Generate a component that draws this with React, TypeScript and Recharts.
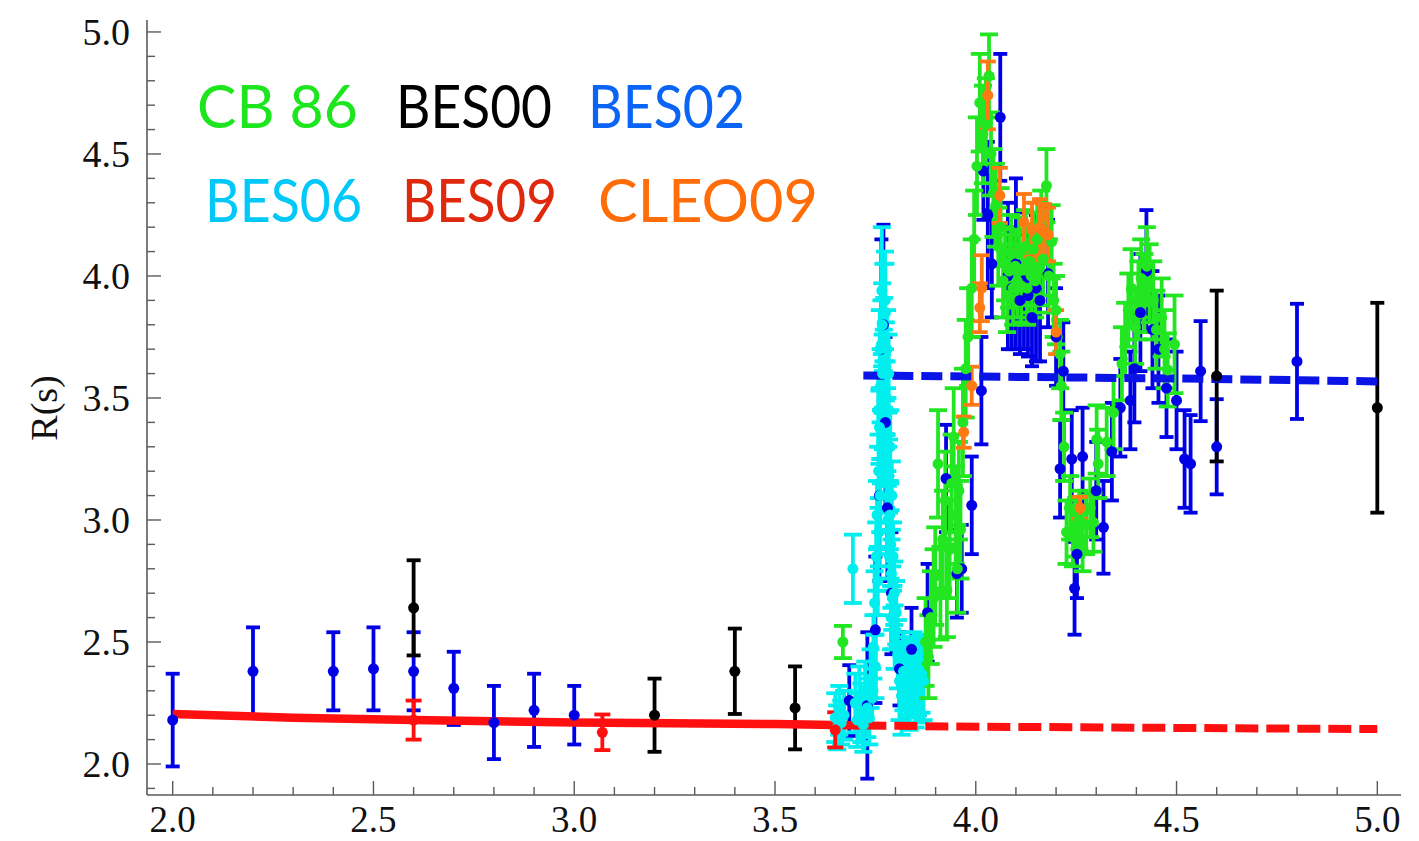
import React from 'react';
import { ComposedChart, Scatter, Line, ErrorBar, XAxis, YAxis } from 'recharts';

// [energy (GeV), R, error]
type Point = [number, number, number];

const BES02: Point[] = [
  [2.0, 2.18, 0.19], [2.2, 2.38, 0.18], [2.4, 2.38, 0.16], [2.5, 2.39, 0.17],
  [2.6, 2.38, 0.16], [2.7, 2.31, 0.15], [2.8, 2.17, 0.15], [2.9, 2.22, 0.15],
  [3.0, 2.2, 0.12], [3.685, 2.26, 0.145], [3.73, 2.24, 0.3], [3.75, 2.55, 0.3],
  [3.76, 3.1, 0.35], [3.765, 3.7, 0.45], [3.77, 3.8, 0.41], [3.775, 3.4, 0.35],
  [3.78, 3.05, 0.3], [3.79, 2.7, 0.25], [3.81, 2.39, 0.15], [3.84, 2.47, 0.17],
  [3.86, 2.36, 0.16], [3.88, 2.62, 0.2], [3.926, 3.17, 0.22], [3.953, 2.78, 0.18],
  [3.965, 2.8, 0.18], [3.99, 3.06, 0.2], [4.014, 3.53, 0.22], [4.019, 4.43, 0.2],
  [4.03, 4.25, 0.3], [4.04, 4.05, 0.22], [4.061, 4.65, 0.26], [4.08, 4.0, 0.3],
  [4.09, 3.95, 0.25], [4.1, 4.05, 0.35], [4.11, 3.9, 0.22], [4.12, 3.98, 0.28],
  [4.13, 3.92, 0.25], [4.14, 3.83, 0.2], [4.15, 3.95, 0.3], [4.16, 3.9, 0.25],
  [4.18, 4.01, 0.22], [4.2, 3.75, 0.2], [4.21, 3.21, 0.2], [4.218, 3.61, 0.2],
  [4.239, 3.25, 0.2], [4.246, 2.72, 0.19], [4.252, 2.86, 0.18], [4.266, 3.26, 0.2],
  [4.3, 3.12, 0.2], [4.318, 2.97, 0.19], [4.339, 3.28, 0.2], [4.36, 3.46, 0.2],
  [4.385, 3.49, 0.2], [4.395, 3.62, 0.22], [4.41, 3.85, 0.24], [4.425, 4.02, 0.25],
  [4.44, 3.78, 0.24], [4.455, 3.7, 0.22], [4.475, 3.54, 0.2], [4.5, 3.49, 0.2],
  [4.52, 3.25, 0.2], [4.535, 3.23, 0.2], [4.56, 3.61, 0.205], [4.6, 3.3, 0.195],
  [4.8, 3.65, 0.236],
];

const BES06: Point[] = [
  [3.65, 2.19, 0.1], [3.655, 2.15, 0.09], [3.66, 2.22, 0.1], [3.665, 2.17, 0.09],
  [3.672, 2.2, 0.1], [3.694, 2.8, 0.14], [3.7, 2.25, 0.12], [3.705, 2.18, 0.11],
  [3.71, 2.28, 0.12], [3.715, 2.21, 0.12], [3.72, 2.16, 0.11], [3.725, 2.3, 0.12],
  [3.73, 2.23, 0.12], [3.735, 2.19, 0.11], [3.738, 2.35, 0.12], [3.742, 2.27, 0.12],
  [3.745, 2.48, 0.13], [3.748, 2.66, 0.13], [3.75, 2.4, 0.13], [3.752, 2.85, 0.14],
  [3.754, 3.02, 0.14], [3.756, 2.75, 0.14], [3.757, 3.45, 0.15], [3.758, 3.2, 0.15],
  [3.759, 2.95, 0.14], [3.76, 3.38, 0.15], [3.761, 3.7, 0.16], [3.762, 3.1, 0.15],
  [3.763, 3.55, 0.15], [3.764, 3.3, 0.15], [3.765, 3.72, 0.18], [3.766, 3.94, 0.26],
  [3.767, 3.8, 0.17], [3.768, 3.6, 0.16], [3.769, 3.45, 0.16], [3.77, 3.85, 0.2],
  [3.771, 3.62, 0.16], [3.772, 3.75, 0.16], [3.773, 3.3, 0.15], [3.774, 3.9, 0.2],
  [3.775, 3.85, 0.2], [3.776, 3.65, 0.16], [3.777, 3.2, 0.15], [3.778, 3.5, 0.15],
  [3.779, 3.7, 0.16], [3.78, 3.35, 0.15], [3.781, 3.0, 0.14], [3.782, 3.45, 0.15],
  [3.783, 3.6, 0.16], [3.784, 3.18, 0.15], [3.785, 2.85, 0.14], [3.786, 3.02, 0.14],
  [3.787, 3.3, 0.15], [3.788, 2.9, 0.14], [3.789, 2.6, 0.13], [3.79, 2.78, 0.14],
  [3.791, 3.1, 0.14], [3.792, 2.68, 0.13], [3.794, 2.85, 0.14], [3.795, 2.6, 0.13],
  [3.797, 2.7, 0.13], [3.798, 2.52, 0.13], [3.802, 2.62, 0.13], [3.806, 2.45, 0.14],
  [3.81, 2.34, 0.16], [3.815, 2.28, 0.16], [3.82, 2.38, 0.16], [3.825, 2.32, 0.16],
  [3.83, 2.36, 0.16], [3.835, 2.3, 0.16], [3.84, 2.35, 0.16], [3.845, 2.38, 0.16],
  [3.85, 2.31, 0.16], [3.855, 2.36, 0.16], [3.86, 2.33, 0.16], [3.865, 2.37, 0.16],
  [3.87, 2.34, 0.16],
];

const CB86: Point[] = [
  [3.669, 2.5, 0.066], [3.875, 2.5, 0.18], [3.882, 2.44, 0.17], [3.888, 2.6, 0.19],
  [3.895, 2.68, 0.2], [3.899, 2.77, 0.2], [3.906, 3.23, 0.22], [3.912, 2.7, 0.19],
  [3.918, 2.92, 0.2], [3.924, 3.08, 0.2], [3.928, 2.71, 0.19], [3.935, 2.88, 0.2],
  [3.94, 3.15, 0.2], [3.945, 3.34, 0.2], [3.95, 3.02, 0.2], [3.954, 2.8, 0.18],
  [3.958, 3.12, 0.2], [3.962, 2.96, 0.2], [3.968, 3.4, 0.22], [3.975, 3.62, 0.2],
  [3.981, 3.75, 0.2], [3.99, 3.95, 0.2], [3.996, 4.15, 0.2], [4.003, 4.45, 0.2],
  [4.01, 4.71, 0.2], [4.018, 4.58, 0.2], [4.025, 4.62, 0.19], [4.033, 4.82, 0.17],
  [4.038, 4.5, 0.17], [4.044, 4.34, 0.18], [4.05, 4.29, 0.17], [4.056, 4.12, 0.16],
  [4.062, 4.2, 0.16], [4.068, 3.98, 0.15], [4.073, 4.05, 0.15], [4.078, 3.92, 0.15],
  [4.083, 4.02, 0.15], [4.088, 4.1, 0.15], [4.093, 3.95, 0.15], [4.098, 4.04, 0.15],
  [4.103, 3.98, 0.15], [4.108, 4.09, 0.15], [4.113, 3.96, 0.15], [4.118, 4.03, 0.15],
  [4.123, 4.12, 0.15], [4.128, 3.95, 0.15], [4.133, 4.06, 0.15], [4.138, 4.0, 0.15],
  [4.143, 4.11, 0.15], [4.148, 3.98, 0.15], [4.153, 4.15, 0.15], [4.158, 4.03, 0.15],
  [4.163, 4.2, 0.15], [4.168, 4.07, 0.15], [4.176, 4.37, 0.15], [4.182, 4.0, 0.15],
  [4.189, 4.14, 0.15], [4.194, 3.9, 0.15], [4.2, 3.86, 0.14], [4.21, 3.68, 0.14],
  [4.213, 3.55, 0.14], [4.22, 3.3, 0.14], [4.226, 2.95, 0.13], [4.235, 3.05, 0.13],
  [4.242, 2.93, 0.12], [4.25, 2.97, 0.12], [4.258, 3.0, 0.12], [4.266, 2.91, 0.12],
  [4.275, 2.98, 0.12], [4.285, 3.05, 0.12], [4.293, 2.99, 0.12], [4.301, 3.33, 0.14],
  [4.305, 3.23, 0.14], [4.326, 3.32, 0.14], [4.343, 3.44, 0.15], [4.364, 3.64, 0.15],
  [4.372, 3.74, 0.15], [4.38, 3.86, 0.15], [4.388, 3.95, 0.16], [4.397, 3.79, 0.15],
  [4.405, 3.9, 0.16], [4.412, 3.99, 0.16], [4.42, 3.93, 0.16], [4.426, 4.04, 0.16],
  [4.433, 3.97, 0.16], [4.442, 3.9, 0.16], [4.45, 3.78, 0.16], [4.463, 3.83, 0.16],
  [4.47, 3.7, 0.16], [4.478, 3.615, 0.15], [4.495, 3.72, 0.2],
];

const BES00: Point[] = [
  [2.6, 2.64, 0.195], [3.2, 2.2, 0.15], [3.4, 2.38, 0.175], [3.55, 2.23, 0.17],
  [4.6, 3.59, 0.35], [5.0, 3.46, 0.43],
];

const BES09: Point[] = [
  [2.6, 2.18, 0.08], [3.07, 2.13, 0.073], [3.65, 2.14, 0.072],
];

const CLEO09: Point[] = [
  [3.97, 3.36, 0.064], [3.99, 3.55, 0.078], [4.01, 3.87, 0.1], [4.015, 3.95, 0.135],
  [4.03, 4.74, 0.139], [4.06, 4.33, 0.113], [4.12, 4.22, 0.116], [4.14, 4.19, 0.11],
  [4.16, 4.2, 0.115], [4.17, 4.18, 0.115], [4.18, 4.17, 0.11], [4.2, 3.77, 0.09],
  [4.26, 3.05, 0.045],
];

// pQCD prediction below / above open charm, and the high-energy average
const redFitSolid: [number, number][] = [[2.0, 2.205], [2.3, 2.19], [2.6, 2.18], [3.0, 2.17], [3.5, 2.164], [3.72, 2.158]];
const redFitDashed: [number, number][] = [[3.72, 2.158], [4.0, 2.153], [4.5, 2.148], [5.0, 2.143]];
const blueFitDashed: [number, number][] = [[3.72, 3.592], [4.0, 3.588], [4.5, 3.58], [5.0, 3.568]];

const xMajorTicks = [2.0, 2.5, 3.0, 3.5, 4.0, 4.5, 5.0];
const yMajorTicks = [2.0, 2.5, 3.0, 3.5, 4.0, 4.5, 5.0];
const xAllTicks = Array.from({ length: 31 }, (_, i) => (20 + i) / 10);
const yAllTicks = Array.from({ length: 32 }, (_, i) => (19 + i) / 10);

const legendRows = [
  { label: 'CB 86', color: '#1ee61e', x: 197, y: 128, w: 161 },
  { label: 'BES00', color: '#000000', x: 396, y: 128, w: 156 },
  { label: 'BES02', color: '#0a64f6', x: 588, y: 128, w: 157 },
  { label: 'BES06', color: '#00c8f8', x: 205, y: 222, w: 157 },
  { label: 'BES09', color: '#e0280c', x: 402, y: 222, w: 155 },
  { label: 'CLEO09', color: '#ff6c08', x: 598, y: 222, w: 220 },
];

const series = [
  { name: 'BES02', points: BES02, color: '#0000e6', cap: 7 },
  { name: 'BES06', points: BES06, color: '#00eeee', cap: 9 },
  { name: 'CB86', points: CB86, color: '#22e622', cap: 9 },
  { name: 'BES00', points: BES00, color: '#000000', cap: 7 },
  { name: 'BES09', points: BES09, color: '#ff1010', cap: 8 },
  { name: 'CLEO09', points: CLEO09, color: '#ff7a14', cap: 8 },
];

const toRows = (pts: Point[]) => pts.map(([e, r, err]) => ({ e, r, err }));
const toLine = (pts: [number, number][]) => pts.map(([e, r]) => ({ e, r }));

const X_DOMAIN: [number, number] = [1.936, 5.059];
const Y_DOMAIN: [number, number] = [1.873, 5.049];
const FRAME = '#5a5a5a';
const SERIF = '"Liberation Serif", "Times New Roman", serif';

const near = (list: number[], v: number) => list.some((t) => Math.abs(t - v) < 1e-6);

const BottomTick = (props: any) => {
  const { x, y, payload } = props;
  const major = near(xMajorTicks, payload.value);
  return (
    <g>
      <line x1={x} y1={y} x2={x} y2={y - (major ? 14 : 8)} stroke={FRAME} strokeWidth={1.4} />
      {major && (
        <text x={x} y={y + 37} textAnchor="middle" fontFamily={SERIF} fontSize={37} fill="#111">
          {payload.value.toFixed(1)}
        </text>
      )}
    </g>
  );
};

const TopTick = (props: any) => {
  const { x, y, payload } = props;
  const major = near(xMajorTicks, payload.value);
  return <line x1={x} y1={y} x2={x} y2={y + (major ? 14 : 8)} stroke={FRAME} strokeWidth={1.4} />;
};

const LeftTick = (props: any) => {
  const { x, y, payload } = props;
  const major = near(yMajorTicks, payload.value);
  return (
    <g>
      <line x1={x} y1={y} x2={x + (major ? 14 : 8)} y2={y} stroke={FRAME} strokeWidth={1.4} />
      {major && (
        <text x={x - 17} y={y + 13} textAnchor="end" fontFamily={SERIF} fontSize={38} fill="#111">
          {payload.value.toFixed(1)}
        </text>
      )}
    </g>
  );
};

const RightTick = (props: any) => {
  const { x, y, payload } = props;
  const major = near(yMajorTicks, payload.value);
  return <line x1={x} y1={y} x2={x - (major ? 14 : 8)} y2={y} stroke={FRAME} strokeWidth={1.4} />;
};

export default function App() {
  return (
    <div style={{ position: 'absolute', left: 0, top: 0, width: 1419, height: 841, background: '#fff' }}>
      <ComposedChart width={1419} height={841} margin={{ top: 20, right: 18, bottom: 0, left: 0 }}>
        <XAxis
          dataKey="e"
          type="number"
          domain={X_DOMAIN}
          allowDataOverflow
          ticks={xAllTicks}
          interval={0}
          height={46}
          tickSize={0}
          tickMargin={0}
          tick={<BottomTick />}
          axisLine={{ stroke: FRAME, strokeWidth: 1.6 }}
        />
        <XAxis
          xAxisId="top"
          orientation="top"
          dataKey="e"
          type="number"
          domain={X_DOMAIN}
          allowDataOverflow
          ticks={xAllTicks}
          interval={0}
          height={0}
          tickSize={0}
          tickMargin={0}
          tick={<TopTick />}
          axisLine={{ stroke: FRAME, strokeWidth: 1.6 }}
        />
        <YAxis
          dataKey="r"
          type="number"
          domain={Y_DOMAIN}
          allowDataOverflow
          ticks={yAllTicks}
          interval={0}
          width={147}
          tickSize={0}
          tickMargin={0}
          tick={<LeftTick />}
          axisLine={{ stroke: FRAME, strokeWidth: 1.6 }}
        />
        <YAxis
          yAxisId="right"
          orientation="right"
          dataKey="r"
          type="number"
          domain={Y_DOMAIN}
          allowDataOverflow
          ticks={yAllTicks}
          interval={0}
          width={0}
          tickSize={0}
          tickMargin={0}
          tick={<RightTick />}
          axisLine={{ stroke: FRAME, strokeWidth: 1.6 }}
        />

        {series.map((s) => (
          <Scatter
            key={s.name}
            name={s.name}
            data={toRows(s.points)}
            dataKey="r"
            fill={s.color}
            isAnimationActive={false}
            shape={(p: any) => <circle cx={p.cx} cy={p.cy} r={5.5} fill={s.color} />}
          >
            <ErrorBar
              dataKey="err"
              direction="y"
              width={s.cap}
              stroke={s.color}
              strokeWidth={3.8}
              isAnimationActive={false}
            />
          </Scatter>
        ))}

        <Line data={toLine(redFitSolid)} dataKey="r" type="linear" stroke="#ff1010" strokeWidth={8.5} dot={false} activeDot={false} isAnimationActive={false} />
        <Line data={toLine(redFitDashed)} dataKey="r" type="linear" stroke="#ff1010" strokeWidth={8} strokeDasharray="23 8" dot={false} activeDot={false} isAnimationActive={false} />
        <Line data={toLine(blueFitDashed)} dataKey="r" type="linear" stroke="#0a14e6" strokeWidth={8} strokeDasharray="21 8" dot={false} activeDot={false} isAnimationActive={false} />
      </ComposedChart>

      <svg width={1419} height={841} style={{ position: 'absolute', left: 0, top: 0, pointerEvents: 'none' }}>
        <text transform="translate(57,408) rotate(-90)" textAnchor="middle" fontFamily={SERIF} fontSize={38} fill="#111">
          R(s)
        </text>
        {legendRows.map((l) => (
          <text
            key={l.label}
            x={l.x}
            y={l.y}
            fill={l.color}
            fontFamily="Lato, 'Open Sans', sans-serif"
            fontSize={60}
            textLength={l.w}
            lengthAdjust="spacingAndGlyphs"
          >
            {l.label}
          </text>
        ))}
      </svg>
    </div>
  );
}
